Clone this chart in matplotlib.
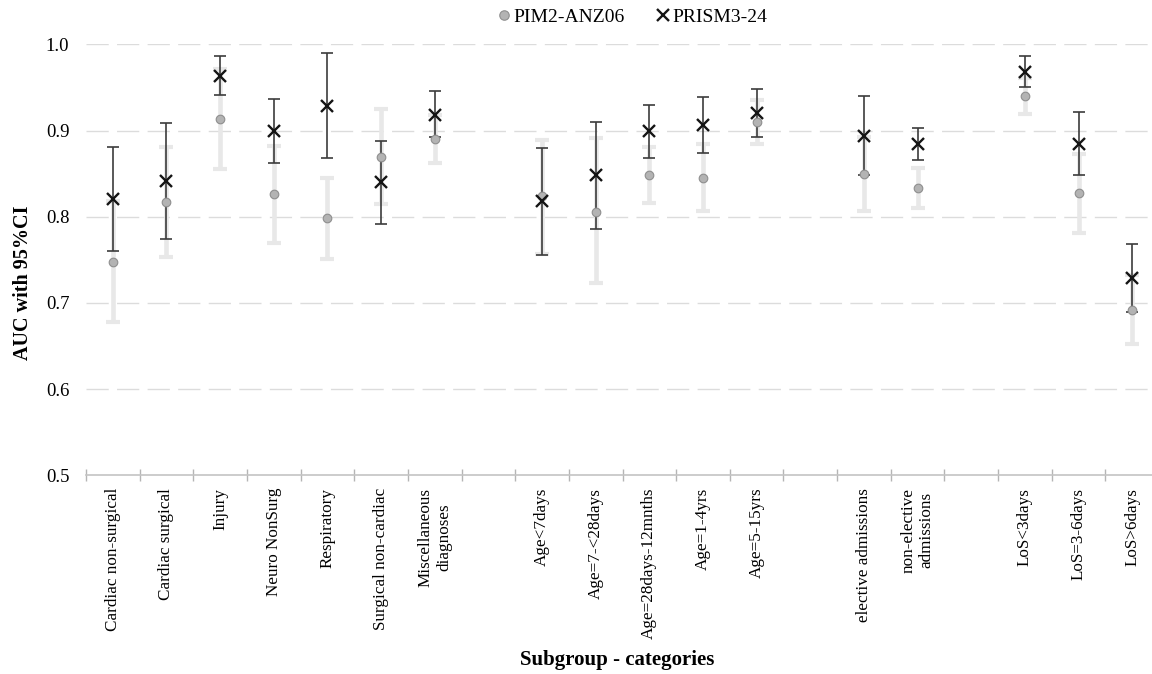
import numpy as np
import matplotlib.pyplot as plt

plt.rcParams['font.family'] = ['Liberation Serif', 'DejaVu Serif']

# subgroups, drawn in four blocks separated by an empty slot
categories = ['Cardiac non-surgical', 'Cardiac surgical', 'Injury', 'Neuro NonSurg',
              'Respiratory', 'Surgical non-cardiac', 'Miscellaneous\ndiagnoses',
              'Age<7days', 'Age=7-<28days', 'Age=28days-12mnths', 'Age=1-4yrs', 'Age=5-15yrs',
              'elective admissions', 'non-elective\nadmissions',
              'LoS<3days', 'LoS=3-6days', 'LoS>6days']
group_sizes = [7, 5, 2, 3]

pim_auc = [0.748, 0.817, 0.913, 0.826, 0.798, 0.869, 0.890,
           0.824, 0.806, 0.848, 0.845, 0.910,
           0.850, 0.833,
           0.940, 0.827, 0.692]
pim_lo = [0.678, 0.753, 0.855, 0.770, 0.751, 0.815, 0.862,
          0.757, 0.723, 0.816, 0.807, 0.884,
          0.807, 0.810,
          0.919, 0.781, 0.652]
pim_hi = [0.818, 0.881, 0.971, 0.882, 0.845, 0.925, 0.918,
          0.889, 0.891, 0.881, 0.884, 0.935,
          0.893, 0.856,
          0.961, 0.873, 0.732]

prism_auc = [0.820, 0.841, 0.963, 0.899, 0.928, 0.840, 0.918,
             0.818, 0.848, 0.899, 0.906, 0.920,
             0.894, 0.884,
             0.968, 0.884, 0.729]
prism_lo = [0.760, 0.774, 0.941, 0.862, 0.868, 0.792, 0.893,
            0.756, 0.786, 0.868, 0.874, 0.892,
            0.848, 0.866,
            0.951, 0.848, 0.690]
prism_hi = [0.881, 0.909, 0.986, 0.936, 0.990, 0.888, 0.946,
            0.880, 0.910, 0.930, 0.939, 0.948,
            0.940, 0.903,
            0.986, 0.922, 0.768]

# slot index of every subgroup, leaving one blank slot between blocks
slots = []
pos = 0
for n in group_sizes:
    slots.extend(range(pos, pos + n))
    pos += n + 1
n_slots = pos - 1
x = np.array(slots) + 0.5

pim_auc = np.array(pim_auc)
prism_auc = np.array(prism_auc)

fig = plt.figure(figsize=(11.52, 6.74), dpi=100)
ax = fig.add_axes([86 / 1152, 1 - 475.3 / 674, 1073 / 1152, 431 / 674])

for yv in [0.6, 0.7, 0.8, 0.9, 1.0]:
    ax.axhline(yv, color='#dcdcdc', lw=1, ls=(0, (16, 6)), zorder=1)

ax.errorbar(x, pim_auc, yerr=[pim_auc - np.array(pim_lo), np.array(pim_hi) - pim_auc],
            fmt='none', ecolor='#e8e8e8', elinewidth=3.3, capsize=5, capthick=3, zorder=2)
ax.errorbar(x, prism_auc, yerr=[prism_auc - np.array(prism_lo), np.array(prism_hi) - prism_auc],
            fmt='none', ecolor='#3c3c3c', elinewidth=1.2, capsize=4.3, capthick=1.2, zorder=3)
ax.plot(x, pim_auc, 'o', ls='none', ms=6.2, mfc='#b3b3b3', mec='#8f8f8f', mew=0.8,
        zorder=4, label='PIM2-ANZ06')
ax.plot(x, prism_auc, 'x', ls='none', ms=8.5, mew=1.7, color='#151515',
        zorder=5, label='PRISM3-24')

ax.set_xlim(0, n_slots)
ax.set_ylim(0.5, 1.0)

labels = [''] * n_slots
for s, c in zip(slots, categories):
    labels[s] = c
ax.set_xticks(np.arange(n_slots) + 0.5)
ax.set_xticklabels(labels, rotation=90, va='top', ha='center',
                   multialignment='center', fontsize=12.3)
ax.set_xticks(np.arange(n_slots + 1), minor=True)
ax.tick_params(axis='x', which='major', length=0, pad=9)
ax.tick_params(axis='x', which='minor', length=9, direction='inout', color='#b5b5b5', width=1)

ax.set_yticks([0.5, 0.6, 0.7, 0.8, 0.9, 1.0])
ax.set_yticklabels(['0.5', '0.6', '0.7', '0.8', '0.9', '1.0'], fontsize=13.5)
ax.tick_params(axis='y', length=0, pad=12)

for side in ['top', 'right', 'left']:
    ax.spines[side].set_visible(False)
ax.spines['bottom'].set_color('#c4c4c4')
ax.spines['bottom'].set_linewidth(1.2)

ax.set_ylabel('AUC with 95%CI', fontsize=14.5, fontweight='bold', va='center')
ax.yaxis.set_label_coords((23 - 86) / 1073, (475.3 - 283) / 431)
fig.text(617 / 1152, 1 - 660 / 674, 'Subgroup - categories', fontsize=15,
         fontweight='bold', ha='center', va='center')

fig.legend(loc='center', bbox_to_anchor=(632 / 1152, 1 - 17 / 674), ncol=2,
           frameon=False, fontsize=14, handlelength=0.7, handletextpad=0.15,
           columnspacing=1.6, markerscale=1.1)

fig.savefig('out.png', dpi=100)
